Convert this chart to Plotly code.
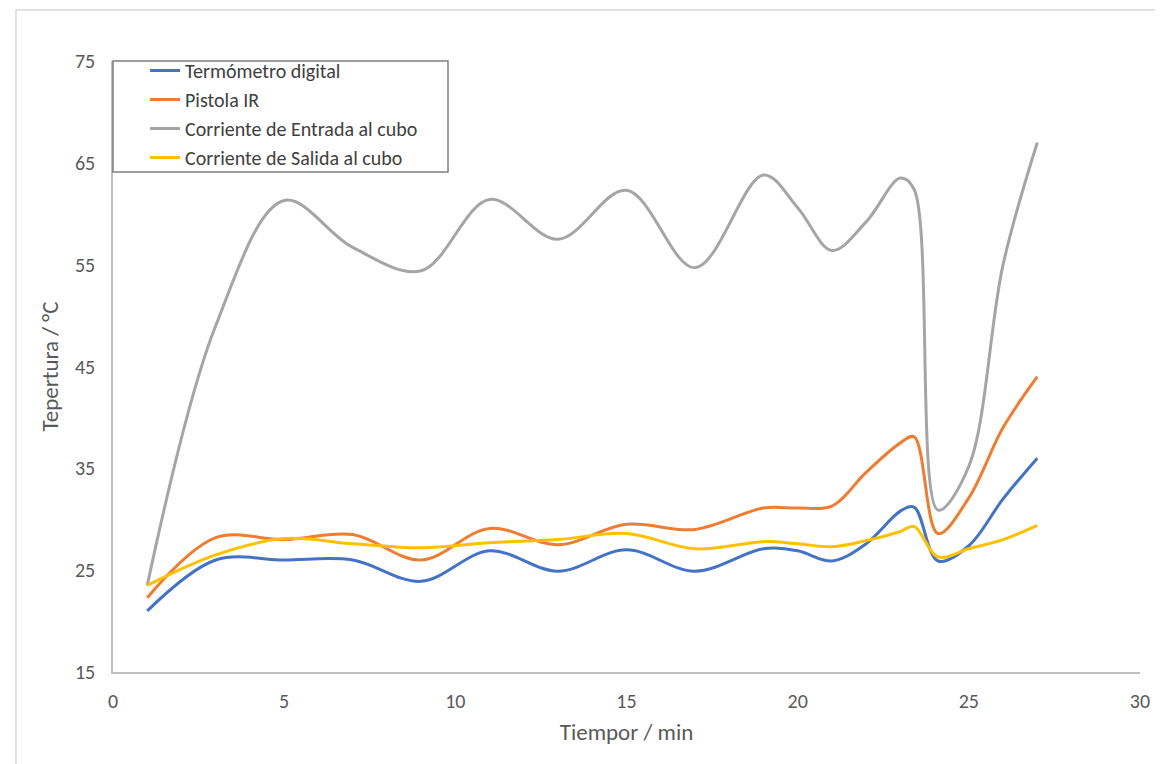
import plotly.graph_objects as go

tiempo = [1, 3, 5, 7, 9, 11, 13, 15, 17, 19, 20, 21, 22, 23, 23.4, 24.1, 25, 26, 27]

termometro = [21.0, 26.0, 26.0, 26.0, 23.9, 26.9, 24.9, 27.0, 24.9, 27.1, 26.9, 25.9, 27.6, 30.8, 31.2, 25.9, 27.4, 32.0, 36.0]
pistola = [22.3, 28.2, 28.0, 28.5, 26.0, 29.1, 27.5, 29.5, 29.0, 31.1, 31.1, 31.3, 34.6, 37.5, 38.1, 28.6, 32.1, 39.0, 44.0]
entrada = [23.5, 49.0, 61.3, 56.7, 54.4, 61.4, 57.5, 62.3, 54.7, 63.8, 60.6, 56.4, 59.2, 63.5, 62.4, 30.9, 35.2, 55.0, 67.0]
salida = [23.5, 26.5, 28.1, 27.6, 27.2, 27.7, 28.0, 28.6, 27.1, 27.8, 27.6, 27.3, 27.9, 28.8, 29.3, 26.3, 27.1, 28.0, 29.4]

series = [
    ("Termómetro digital", termometro, "#4472C4"),
    ("Pistola IR", pistola, "#ED7D31"),
    ("Corriente de Entrada al cubo", entrada, "#A5A5A5"),
    ("Corriente de Salida al cubo", salida, "#FFC000"),
]

x_ticks = [0, 5, 10, 15, 20, 25, 30]
y_ticks = [15, 25, 35, 45, 55, 65, 75]

FONT = "Carlito, Lato, 'Open Sans', sans-serif"

fig = go.Figure()
for name, vals, color in series:
    fig.add_trace(go.Scatter(
        x=tiempo, y=vals, name=name, mode="lines",
        line=dict(color=color, width=3, shape="spline", smoothing=1.0),
    ))

fig.update_layout(
    width=1155, height=756,
    margin=dict(l=105, r=23, t=53, b=92, autoexpand=False),
    paper_bgcolor="white", plot_bgcolor="white",
    font=dict(family=FONT, color="#595959", size=20),
    showlegend=True,
    legend=dict(
        x=0.0312, y=1.0164, xanchor="left", yanchor="top",
        bgcolor="rgba(0,0,0,0)", borderwidth=0,
        font=dict(family=FONT, size=20, color="#404040"),
    ),
    shapes=[
        dict(
            type="rect", xref="paper", yref="paper",
            x0=-0.0945, x1=1.3, y0=-0.4, y1=1.0835,
            line=dict(color="#d9d9d9", width=1.5), fillcolor="rgba(0,0,0,0)", layer="below",
        ),
        dict(
            type="rect", xref="paper", yref="paper",
            x0=0, x1=0.3262, y0=0.8183, y1=1.0,
            line=dict(color="#7f7f7f", width=1.5), fillcolor="white", layer="above",
        ),
    ],
)

fig.update_xaxes(
    range=[0, 30], tickvals=x_ticks, showgrid=False, zeroline=False,
    showline=True, linecolor="#bfbfbf", linewidth=1.5,
    ticks="", ticklabelstandoff=10,
    tickfont=dict(size=20, color="#595959"),
    title=dict(text="Tiempor / min", font=dict(size=23, color="#595959"), standoff=12),
)
fig.update_yaxes(
    range=[15, 75], tickvals=y_ticks, showgrid=False, zeroline=False,
    showline=True, linecolor="#bfbfbf", linewidth=1.5,
    ticks="", ticklabelstandoff=12,
    tickfont=dict(size=20, color="#595959"),
    title=dict(text="Tepertura / °C", font=dict(size=23, color="#595959"), standoff=10),
)

fig.write_html("out.html")
